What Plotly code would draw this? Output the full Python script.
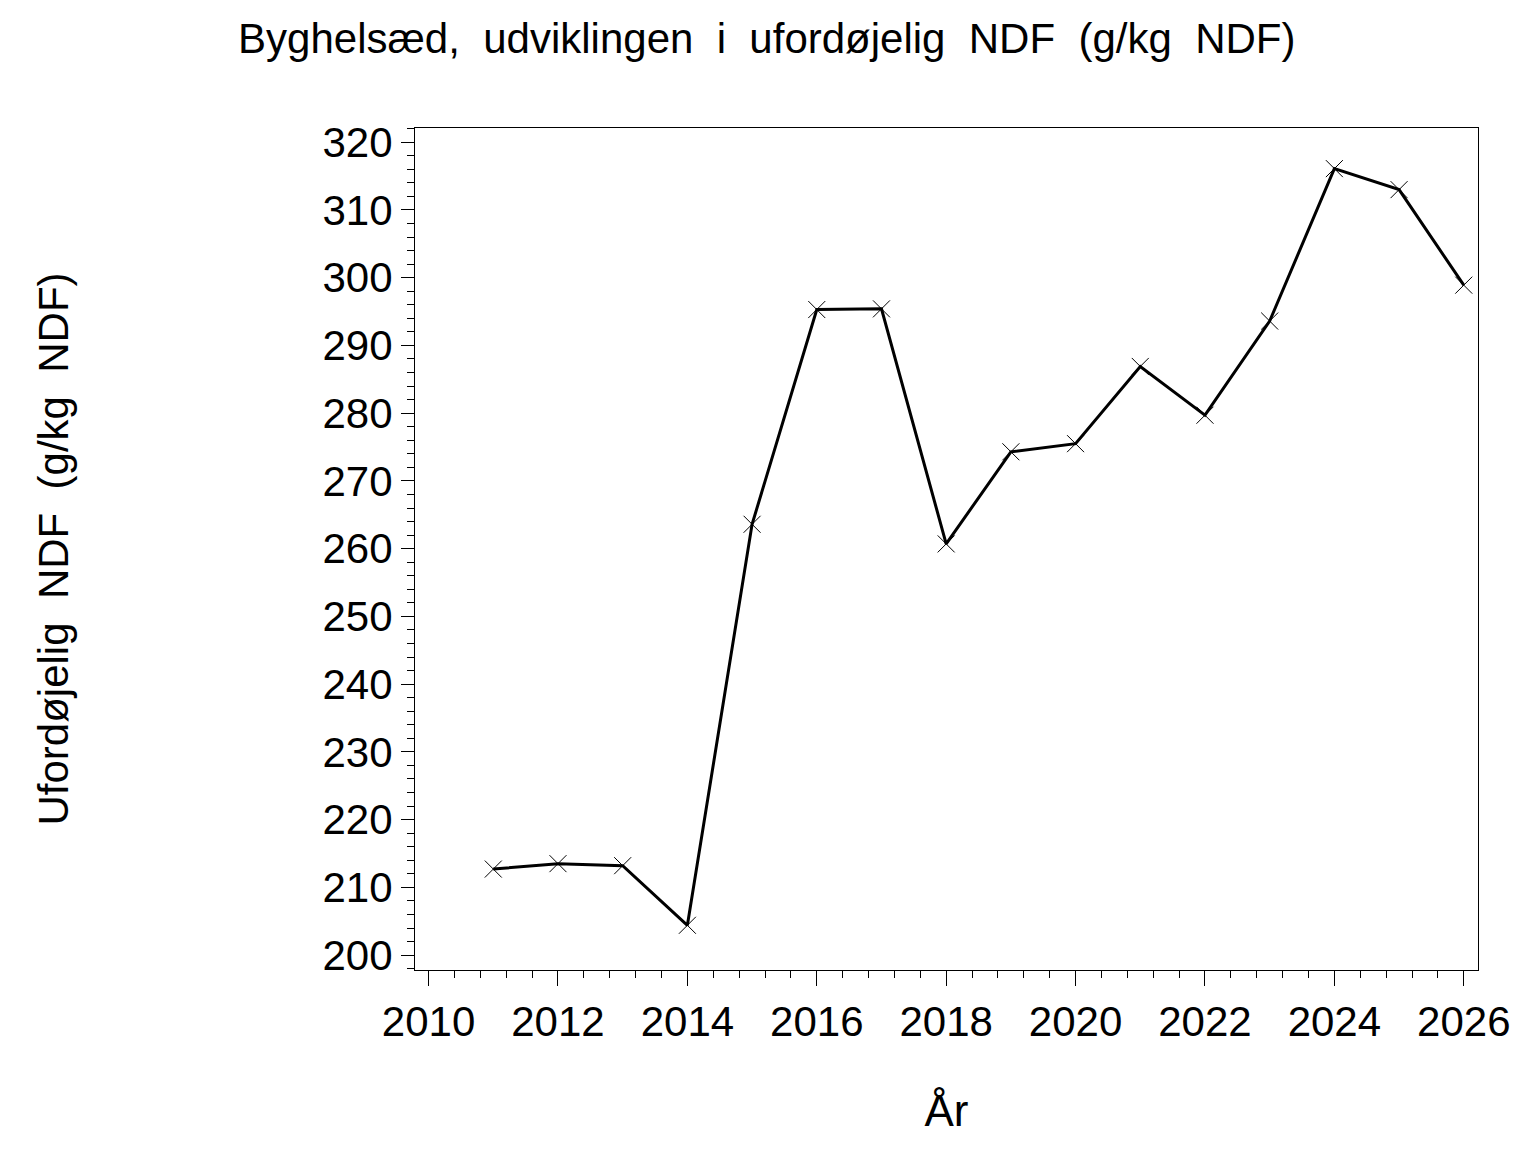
import plotly.graph_objects as go

# Ufordøjelig NDF i byghelsæd
years = [2011, 2012, 2013, 2014, 2015, 2016, 2017, 2018,
         2019, 2020, 2021, 2022, 2023, 2024, 2025, 2026]
undigested_ndf = [212.7, 213.5, 213.2, 204.4, 263.6, 295.3, 295.4, 260.7,
                  274.3, 275.5, 286.9, 279.7, 293.6, 316.1, 313.0, 298.9]

x_ticks = list(range(2010, 2027, 2))
y_ticks = list(range(200, 321, 10))

FONT = "Liberation Sans, Arial, sans-serif"

fig = go.Figure()
fig.add_trace(go.Scatter(
    x=years,
    y=undigested_ndf,
    mode='lines+markers',
    line=dict(color='black', width=3),
    marker=dict(symbol='x-thin-open', size=17, color='black',
                line=dict(color='black', width=1)),
    showlegend=False
))

fig.update_layout(
    width=1536,
    height=1152,
    paper_bgcolor='white',
    plot_bgcolor='white',
    font=dict(family=FONT, size=42, color='black'),
    margin=dict(l=407, r=66, t=120, b=190),
    title=dict(
        text='Byghelsæd,  udviklingen  i  ufordøjelig  NDF  (g/kg  NDF)',
        x=0.494, xref='container', xanchor='center',
        y=1 - 30 / 1152, yref='container', yanchor='middle',
        font=dict(family=FONT, size=42, color='black')
    )
)

fig.update_xaxes(
    range=[2009.79, 2026.22],
    tickvals=x_ticks,
    ticks='outside', ticklen=15, tickwidth=1, tickcolor='black',
    minor=dict(dtick=0.4, tick0=2010, ticks='outside', ticklen=7,
               tickwidth=1, tickcolor='black', showgrid=False),
    showline=True, linecolor='black', linewidth=1, mirror=True,
    showgrid=False, zeroline=False,
    title=dict(text='År', standoff=50, font=dict(size=44)),
    tickfont=dict(size=42)
)

fig.update_yaxes(
    range=[197.8, 322.1],
    tickvals=y_ticks,
    ticks='outside', ticklen=13, tickwidth=1, tickcolor='black',
    minor=dict(dtick=2, tick0=200, ticks='outside', ticklen=7,
               tickwidth=1, tickcolor='black', showgrid=False),
    showline=True, linecolor='black', linewidth=1, mirror=True,
    showgrid=False, zeroline=False,
    title=dict(text='Ufordøjelig  NDF  (g/kg  NDF)', standoff=240,
               font=dict(size=42)),
    tickfont=dict(size=42)
)

fig.write_html("out.html")
